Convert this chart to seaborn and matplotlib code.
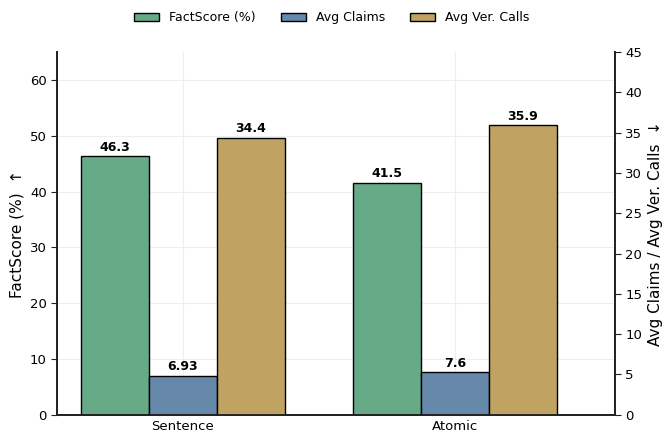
import matplotlib
matplotlib.use("Agg")
import matplotlib.pyplot as plt
import pandas as pd
import seaborn as sns
from matplotlib.patches import Patch

methods = ["Sentence", "Atomic"]
metrics = ["FactScore (%)", "Avg Claims", "Avg Ver. Calls"]
factscore = [46.3, 41.5]
avg_claims = [6.93, 7.6]
avg_calls = [34.4, 35.9]

colors = {"FactScore (%)": "#66AA88", "Avg Claims": "#6688AA",
          "Avg Ver. Calls": "#C0A262"}
BAR_W = 0.25

sns.set_style("white")
plt.rcParams["font.family"] = ["DejaVu Sans"]
plt.rcParams.update({"text.color": "black", "axes.labelcolor": "black",
                     "xtick.color": "black", "ytick.color": "black"})

rows = []
for k, (metric, vals) in enumerate(zip(metrics, [factscore, avg_claims, avg_calls])):
    for i, v in enumerate(vals):
        rows.append({"Method": methods[i], "Metric": metric, "Value": v,
                     "pos": i + (k - 1) * BAR_W})
df = pd.DataFrame(rows)
# FactScore and claims go on the left axis, verification calls on the right
left = df[df["Metric"] != "Avg Ver. Calls"]
right = df[df["Metric"] == "Avg Ver. Calls"]

fig = plt.figure(figsize=(6.64, 4.38), dpi=100)
ax = fig.add_axes([0.086, 0.053, 0.840, 0.828])
ax2 = ax.twinx()

kw = dict(x="pos", y="Value", hue="Metric", hue_order=metrics,
          palette=colors, native_scale=True, dodge=False, saturation=1,
          edgecolor="black", linewidth=1.0, legend=False)
sns.barplot(data=left, ax=ax, width=1.0, **kw)      # spacing 0.25
sns.barplot(data=right, ax=ax2, width=BAR_W, **kw)  # spacing 1.0

for a in (ax, ax2):
    for cont in a.containers:
        labels = [f"{b.get_height():g}" for b in cont]
        a.bar_label(cont, labels=labels, padding=2, fontsize=9,
                    fontweight="bold", color="black")

ax.set_xlim(-0.4625, 1.5875)
ax.set_xticks([0, 1])
ax.set_xticklabels(methods)
ax.set_ylim(0, 65)
ax2.set_ylim(0, 45)
ax.set_yticks(range(0, 61, 10))
ax2.set_yticks(range(0, 46, 5))
ax.set_xlabel("")
ax2.set_xlabel("")
ax.set_ylabel("FactScore (%)  \u2191", fontsize=11)
ax2.set_ylabel("Avg Claims / Avg Ver. Calls  \u2193", fontsize=11)

ax.grid(True, color="#eeeeee", linewidth=0.8)
ax.set_axisbelow(True)
ax2.grid(False)

for a in (ax, ax2):
    a.spines["top"].set_visible(False)
    for s in ("left", "right", "bottom"):
        a.spines[s].set_color("#222222")
        a.spines[s].set_linewidth(1.3)
    a.tick_params(axis="both", labelsize=9.5, length=4, color="#222222",
                  direction="out")
ax.tick_params(axis="x", length=0)
ax2.tick_params(axis="x", length=0)

handles = [Patch(facecolor=colors[m], edgecolor="black", label=m)
           for m in metrics]
fig.legend(handles=handles, loc="upper center", bbox_to_anchor=(0.5, 1.0),
           ncol=3, frameon=False, fontsize=9, handlelength=2.0,
           columnspacing=2.0)

fig.savefig("out.png", dpi=100)
